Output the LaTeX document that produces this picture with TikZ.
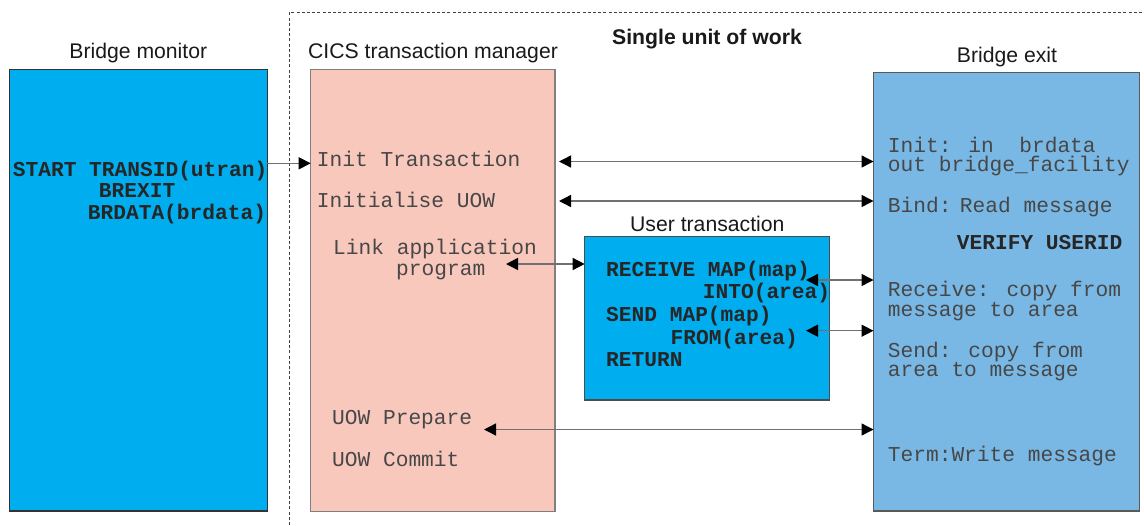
\documentclass[tikz,border=0pt]{standalone}
\usepackage{fontspec}
\setmainfont{Liberation Sans}
\newfontfamily\monof{Liberation Mono}
\usetikzlibrary{arrows.meta,fit}
\definecolor{bmblue}{HTML}{00ADEF}
\definecolor{cicspink}{HTML}{F9C8BD}
\definecolor{bxblue}{HTML}{79B8E5}
\definecolor{txtgray}{HTML}{474747}
\definecolor{linegray}{HTML}{707070}
\begin{document}
\begin{tikzpicture}[x=0.5pt,y=-0.5pt,
  box/.style={draw, line width=0.7pt, inner sep=0pt, outer sep=0pt, rectangle},
  ttl/.style={anchor=base, inner sep=0pt, font=\fontsize{10.6}{12}\selectfont, text=black!90},
  mono/.style={anchor=base west, inner sep=0pt, font=\monof\fontsize{10.6}{12}\selectfont, text=txtgray},
  monob/.style={anchor=base west, inner sep=0pt, font=\monof\bfseries\fontsize{10.6}{12}\selectfont, text=black!85},
  arr/.style={draw=linegray, line width=0.7pt, -{Triangle[length=6pt,width=6pt,color=black]}},
  darr/.style={draw=linegray, line width=0.7pt, {Triangle[length=6pt,width=6pt,color=black]}-{Triangle[length=6pt,width=6pt,color=black]}},
  unitline/.style={draw=black!75, line width=0.5pt, dash pattern=on 1.5pt off 1.1pt}
]
\useasboundingbox (0,0) rectangle (1144,525);

% unit of work boundary
\coordinate (uwb) at (289.3,525);
\coordinate (uwc) at (289.3,12.3);
\coordinate (uwr) at (1144,12.3);
\draw[unitline] (uwb) -- (uwc) -- (uwr);

% boxes
\node[box, fill=bmblue, draw=black!80, fit={(9.3,69.3) (267.3,511)}] (bm) {};
\node[box, fill=cicspink, draw=black!50, fit={(310.7,69.3) (555,511.5)}] (cics) {};
\node[box, fill=bxblue, draw=black!65, fit={(873.5,72.3) (1139.5,510.8)}] (bx) {};
\node[box, fill=bmblue, draw=black!70, fit={(584.7,236.7) (829.3,400)}] (ut) {};

% titles
\node[ttl] (tbm) at (138.3,58.3) {Bridge monitor};
\node[ttl] (tcics) at (433,58.3) {CICS transaction manager};
\node[ttl, font=\bfseries\fontsize{10.6}{12}\selectfont] (tuow) at (707,44.3) {Single unit of work};
\node[ttl] (tbx) at (1007,62.3) {Bridge exit};
\node[ttl] (tut) at (707.3,231.7) {User transaction};

% bridge monitor text
\node[monob] (m1) at (12.5,176.5) {START TRANSID(utran)};
\node[monob] (m2) at (98.5,197.5) {BREXIT};
\node[monob] (m3) at (87.5,219.5) {BRDATA(brdata)};

% CICS text
\node[mono] (c1) at (316.5,166.5) {Init Transaction};
\node[mono] (c2) at (316.5,207.5) {Initialise UOW};
\node[mono] (c3) at (332.8,254.5) {Link application};
\node[mono] (c4) at (395.8,275) {program};
\node[mono] (c5) at (331.8,424) {UOW Prepare};
\node[mono] (c6) at (331.8,466) {UOW Commit};

% user transaction text
\node[monob] (u1) at (605.8,276.7) {RECEIVE MAP(map)};
\node[monob] (u2) at (702.5,298.3) {INTO(area)};
\node[monob] (u3) at (605.8,321.7) {SEND MAP(map)};
\node[monob] (u4) at (670.2,344) {FROM(area)};
\node[monob] (u5) at (605.8,366.7) {RETURN};

% bridge exit text
\node[mono] (b1) at (887.5,152) {Init: in~~brdata};
\node[mono] (b2) at (887.5,171.7) {out bridge\_facility};
\node[mono] (b3) at (887.5,212.7) {Bind:\hspace{-4.25pt} Read message};
\node[monob] (b4) at (956.5,249) {VERIFY USERID};
\node[mono, text depth=0pt] (b5) at (887.5,296.5) {Receive: copy from};
\node[mono] (b6) at (887.5,316) {message to area};
\node[mono, text depth=0pt] (b7) at (887.5,357) {Send: copy from};
\node[mono] (b8) at (887.5,376.5) {area to message};
\node[mono] (b9) at (887.5,461) {Term:Write message};

% connector levels and free ends
\coordinate (ystart) at (0,163.3);
\coordinate (yinit) at (0,161.5);
\coordinate (yuow) at (0,201);
\coordinate (lk) at (506,264);
\coordinate (rc) at (806,280);
\coordinate (sd) at (806,330.7);
\coordinate (pr) at (484,429.5);

% connectors
\draw[arr] (bm.east |- ystart) -- (cics.west |- ystart);
\draw[darr] ([xshift=2pt]cics.east |- yinit) -- (bx.west |- yinit);
\draw[darr] ([xshift=2pt]cics.east |- yuow) -- (bx.west |- yuow);
\draw[darr] (lk) -- (ut.west |- lk);
\draw[darr] (rc) -- (bx.west |- rc);
\draw[darr] (sd) -- (bx.west |- sd);
\draw[darr] (pr) -- (bx.west |- pr);
\end{tikzpicture}
\end{document}
